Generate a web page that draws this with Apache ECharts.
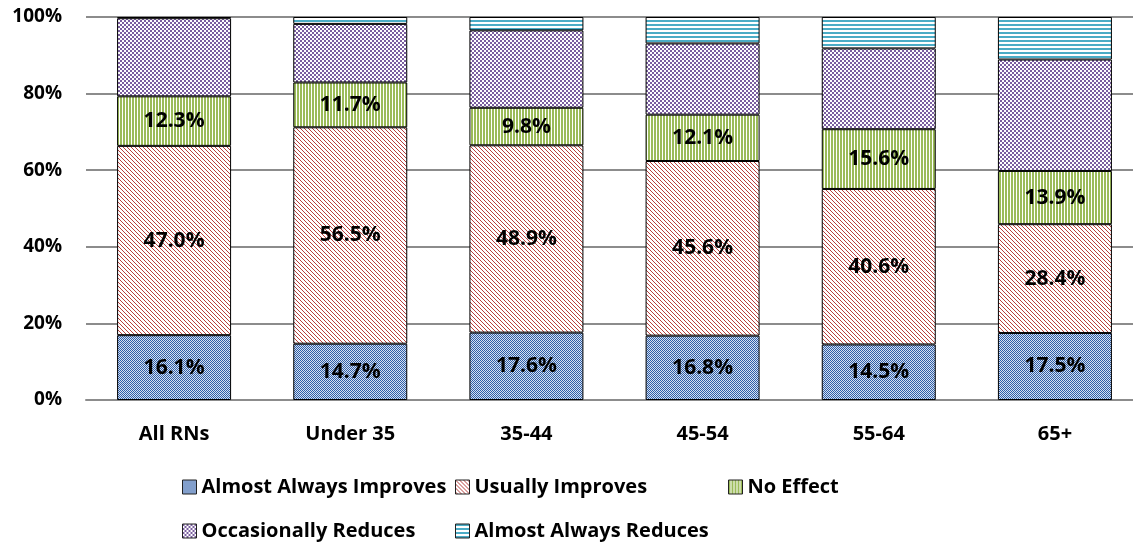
<!DOCTYPE html>
<html>
<head>
<meta charset="utf-8">
<script src="https://cdn.jsdelivr.net/npm/echarts@6/dist/echarts.min.js"></script>
<style>
html,body{margin:0;padding:0;background:#fff;}
#chart{width:1133px;height:544px;}
</style>
</head>
<body>
<div id="chart"></div>
<script>
// Data (raw reported percentages; chart is 100% stacked)
var categories = ['All RNs', 'Under 35', '35-44', '45-54', '55-64', '65+'];
var seriesNames = ['Almost Always Improves', 'Usually Improves', 'No Effect', 'Occasionally Reduces', 'Almost Always Reduces'];
var almostAlwaysImproves = [16.1, 14.7, 17.6, 16.8, 14.5, 17.5];
var usuallyImproves      = [47.0, 56.5, 48.9, 45.6, 40.6, 28.4];
var noEffect             = [12.3, 11.7, 9.8, 12.1, 15.6, 13.9];
var occasionallyReduces  = [19.4, 15.3, 20.2, 18.6, 21.1, 29.1];
var almostAlwaysReduces  = [0.3, 1.8, 3.5, 6.9, 8.2, 11.1];
var yTicks = [0, 20, 40, 60, 80, 100];

var raw = [almostAlwaysImproves, usuallyImproves, noEffect, occasionallyReduces, almostAlwaysReduces];

function makePattern(w, h, draw) {
  var c = document.createElement('canvas');
  c.width = w; c.height = h;
  var ctx = c.getContext('2d');
  ctx.fillStyle = '#ffffff';
  ctx.fillRect(0, 0, w, h);
  draw(ctx);
  return { image: c, repeat: 'repeat' };
}
var patterns = [
  makePattern(2, 2, function (ctx) {
    ctx.fillStyle = '#d6e1f2'; ctx.fillRect(0,0,2,2);
    ctx.fillStyle = '#2f5ea6'; ctx.fillRect(0,0,1,1); ctx.fillRect(1,1,1,1);
  }),
  makePattern(4, 4, function (ctx) { ctx.fillStyle = '#b8403d'; for (var i=0;i<4;i++) ctx.fillRect(i,i,1,1); }),
  makePattern(3, 1, function (ctx) { ctx.fillStyle = '#9bbb59'; ctx.fillRect(0,0,2,1); }),
  makePattern(4, 4, function (ctx) { ctx.fillStyle = '#7b5fa0'; ctx.fillRect(0,0,2,2); ctx.fillRect(2,2,2,2); }),
  makePattern(1, 4, function (ctx) { ctx.fillStyle = '#4bacc6'; ctx.fillRect(0,0,1,2); })
];

var totals = categories.map(function (_, i) {
  var s = 0; raw.forEach(function (arr) { s += arr[i]; }); return s;
});

var FONT = '"Open Sans", "Noto Sans", sans-serif';

var series = seriesNames.map(function (name, k) {
  return {
    name: name,
    type: 'bar',
    stack: 'total',
    barWidth: 114,
    data: raw[k].map(function (v, i) { return v / totals[i] * 100; }),
    itemStyle: { color: patterns[k], borderColor: '#000', borderWidth: 1 },
    label: {
      show: k < 3,
      position: 'inside',
      color: '#000',
      fontFamily: FONT,
      fontWeight: 'bold',
      fontSize: 21,
      formatter: function (p) { return raw[k][p.dataIndex].toFixed(1) + '%'; }
    },
    emphasis: { disabled: true }
  };
});

var legendPos = [
  { left: 182, top: 477 }, { left: 455, top: 477 }, { left: 728, top: 477 },
  { left: 182, top: 521 }, { left: 455, top: 521 }
];
var legends = seriesNames.map(function (name, k) {
  return {
    data: [name],
    left: legendPos[k].left,
    top: legendPos[k].top,
    icon: 'rect',
    itemWidth: 14,
    itemHeight: 14,
    itemGap: 0,
    padding: 0,
    selectedMode: false,
    itemStyle: { borderColor: '#222', borderWidth: 1 },
    textStyle: { color: '#000', fontFamily: FONT, fontWeight: 'bold', fontSize: 20, padding: [0, 0, 0, 0] }
  };
});

var chart = echarts.init(document.getElementById('chart'), null, { renderer: 'canvas' });
chart.setOption({
  animation: false,
  backgroundColor: '#ffffff',
  grid: { left: 86, top: 17, width: 1057, bottom: 144, containLabel: false, outerBoundsMode: 'none' },
  legend: legends,
  xAxis: {
    type: 'category',
    data: categories,
    axisTick: { show: false },
    axisLine: { lineStyle: { color: '#8c8c8c', width: 2 } },
    axisLabel: { color: '#000', fontFamily: FONT, fontWeight: 'bold', fontSize: 20, margin: 24 }
  },
  yAxis: {
    type: 'value',
    min: yTicks[0],
    max: yTicks[yTicks.length - 1],
    interval: yTicks[1] - yTicks[0],
    axisLine: { show: false },
    axisTick: { show: false },
    splitLine: { lineStyle: { color: '#8c8c8c', width: 2 } },
    axisLabel: { color: '#000', fontFamily: FONT, fontWeight: 'bold', fontSize: 19, margin: 24, formatter: '{value}%' }
  },
  series: series
});
</script>
</body>
</html>
